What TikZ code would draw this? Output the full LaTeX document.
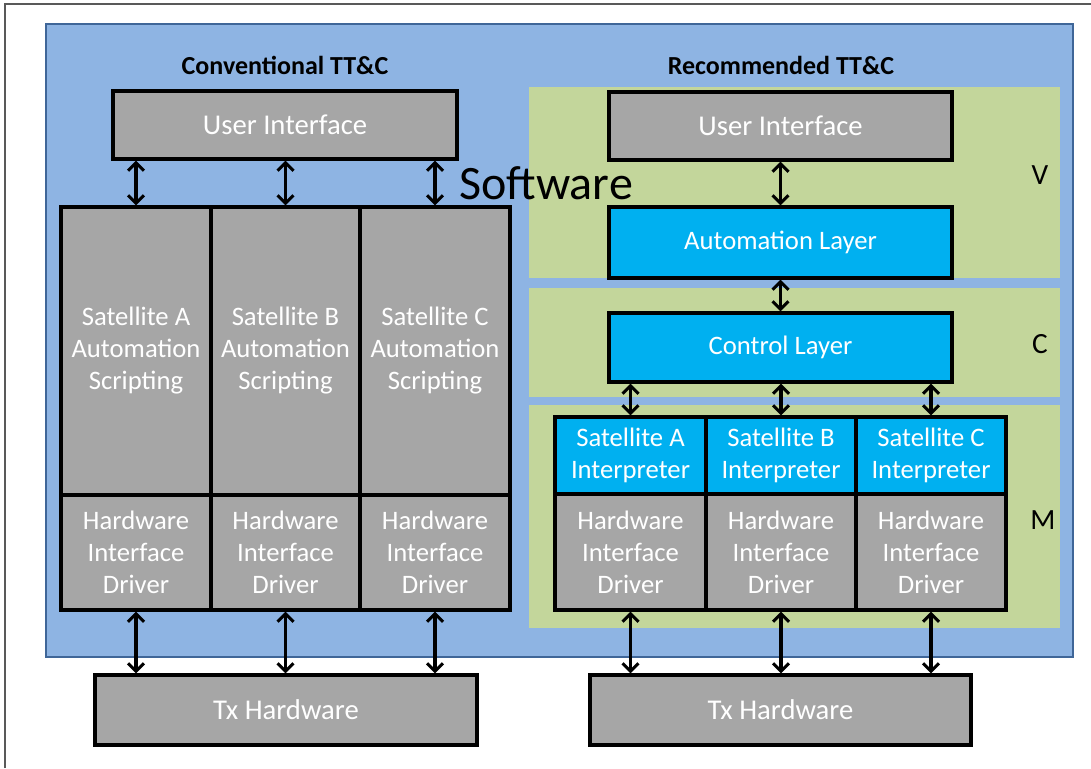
\documentclass[tikz,border=0pt]{standalone}
\usepackage{fontspec}
\setmainfont{Carlito}
\usetikzlibrary{arrows.meta}

\definecolor{panelblue}{HTML}{8EB4E3}
\definecolor{paneledge}{HTML}{3F6698}
\definecolor{layergreen}{HTML}{C3D69B}
\definecolor{boxgray}{HTML}{A6A6A6}
\definecolor{layercyan}{HTML}{00B0F0}
\definecolor{framegray}{HTML}{595959}

\tikzset{
  blk/.style={draw=black, line width=2.5pt, inner sep=0pt, text=white, align=center},
  graybox/.style={blk, fill=boxgray},
  cyanbox/.style={blk, fill=layercyan},
  big/.style={font=\fontsize{21.5}{25}\selectfont},
  mid/.style={font=\fontsize{20}{24}\selectfont},
  title/.style={font=\bfseries\fontsize{19.5}{23}\selectfont},
  barb/.tip={Straight Barb[length=6pt,width=12pt,line width=2.2pt]},
  biarrow/.style={line width=2.4pt, barb-barb},
}

% a box given by two opposite corners (in px): name, x1, y1, x2, y2, style, text
\newcommand\pxbox[7]{%
  \pgfmathsetmacro\bxcx{(#2+#4)/2}%
  \pgfmathsetmacro\bxcy{(#3+#5)/2}%
  \pgfmathsetmacro\bxw{(#4-#2)*0.75}%
  \pgfmathsetmacro\bxh{(#5-#3)*0.75}%
  \node[#6, minimum width=\bxw pt, minimum height=\bxh pt] (#1) at (\bxcx,\bxcy) {#7};}

\begin{document}
\begin{tikzpicture}[x=0.75pt, y=-0.75pt]
\useasboundingbox (0,0) rectangle (1091,768);

% outer frame
\draw[framegray, line width=1.6pt] (5,768) -- (5,4) -- (1091,4);

% software panel
\draw[paneledge, fill=panelblue, line width=1.8pt] (46,24) rectangle (1073,657);

% layer bands
\fill[layergreen] (529,87) rectangle (1060,278);
\fill[layergreen] (529,288) rectangle (1060,397);
\fill[layergreen] (529,405) rectangle (1060,628);

% titles
\node[title, anchor=base] (tconv) at (285,74) {Conventional TT\&C};
\node[title, anchor=base] (trec) at (781,74) {Recommended TT\&C};

% ---------- conventional ----------
\pxbox{uiL}{113}{91}{457}{159}{graybox,big}{User Interface}
\pxbox{scA}{61}{207}{211}{495}{graybox,mid}{Satellite A\\Automation\\Scripting}
\pxbox{scB}{211}{207}{360}{495}{graybox,mid}{Satellite B\\Automation\\Scripting}
\pxbox{scC}{360}{207}{510}{495}{graybox,mid}{Satellite C\\Automation\\Scripting}
\pxbox{hwA}{61}{495}{211}{610}{graybox,mid}{Hardware\\Interface\\Driver}
\pxbox{hwB}{211}{495}{360}{610}{graybox,mid}{Hardware\\Interface\\Driver}
\pxbox{hwC}{360}{495}{510}{610}{graybox,mid}{Hardware\\Interface\\Driver}
\pxbox{txL}{95}{675}{477}{745}{graybox,big}{Tx Hardware}

\foreach \c in {scA,scB,scC}
  \draw[biarrow] (uiL.south -| \c.north) -- (\c.north);
\foreach \c in {hwA,hwB,hwC}
  \draw[biarrow] (\c.south) -- (txL.north -| \c.south);

% ---------- recommended ----------
\pxbox{uiR}{609}{92}{952}{160}{graybox,big}{User Interface}
\pxbox{auto}{609}{207}{952}{278}{cyanbox,mid}{Automation Layer}
\pxbox{ctrl}{609}{313}{952}{382}{cyanbox,mid}{Control Layer}
\pxbox{inA}{555}{417}{706}{494}{cyanbox,mid}{Satellite A\\Interpreter}
\pxbox{inB}{706}{417}{856}{494}{cyanbox,mid}{Satellite B\\Interpreter}
\pxbox{inC}{856}{417}{1006}{494}{cyanbox,mid}{Satellite C\\Interpreter}
\pxbox{rhA}{555}{494}{706}{610}{graybox,mid}{Hardware\\Interface\\Driver}
\pxbox{rhB}{706}{494}{856}{610}{graybox,mid}{Hardware\\Interface\\Driver}
\pxbox{rhC}{856}{494}{1006}{610}{graybox,mid}{Hardware\\Interface\\Driver}
\pxbox{txR}{590}{675}{971}{745}{graybox,big}{Tx Hardware}

\draw[biarrow] (uiR.south) -- (auto.north);
\draw[biarrow] (auto.south) -- (ctrl.north);
\foreach \c in {inA,inB,inC}
  \draw[biarrow] (ctrl.south -| \c.north) -- (\c.north);
\foreach \c in {rhA,rhB,rhC}
  \draw[biarrow] (\c.south) -- (txR.north -| \c.south);

% layer letters
\node[font=\fontsize{22}{26}\selectfont] (lv) at (1040,175) {V};
\node[font=\fontsize{22}{26}\selectfont] (lc) at (1040,344) {C};
\node[font=\fontsize{22}{26}\selectfont] (lm) at (1043,520) {M};

% panel caption
\node[font=\fontsize{36}{42}\selectfont, anchor=base west, inner sep=0pt] (sw) at (459,199) {Software};
\end{tikzpicture}
\end{document}
